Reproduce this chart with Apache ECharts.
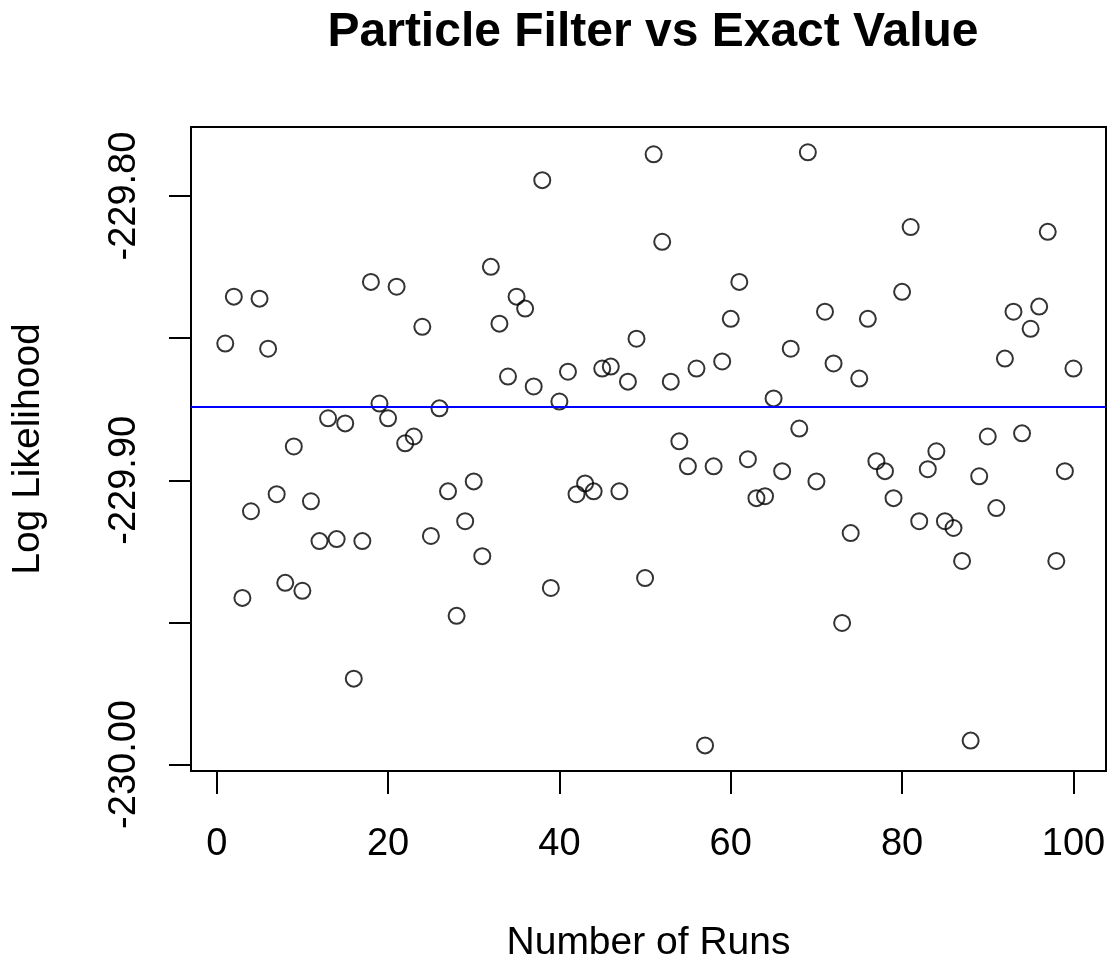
<!DOCTYPE html>
<html>
<head>
<meta charset="utf-8">
<title>Particle Filter vs Exact Value</title>
<script src="https://cdn.jsdelivr.net/npm/echarts@6/dist/echarts.min.js"></script>
<style>
  html, body { margin: 0; padding: 0; background: #fff; }
  #chart { width: 1109px; height: 962px; }
</style>
</head>
<body>
<div id="chart"></div>
<script>
// log likelihood from the particle filter, one value per run (runs 1..100)
const logLik = [
  -229.8519, -229.8354, -229.9414, -229.9109, -229.8361, -229.8537, -229.9049, -229.9361, -229.8881, -229.9389,
  -229.9074, -229.9214, -229.8782, -229.9207, -229.8800, -229.9698, -229.9214, -229.8302, -229.8730, -229.8782,
  -229.8319, -229.8870, -229.8846, -229.8460, -229.9196, -229.8747, -229.9039, -229.9477, -229.9144, -229.9004,
  -229.9267, -229.8249, -229.8449, -229.8635, -229.8354, -229.8396, -229.8670, -229.7944, -229.9379, -229.8723,
  -229.8618, -229.9049, -229.9011, -229.9039, -229.8607, -229.8600, -229.9039, -229.8653, -229.8502, -229.9344,
  -229.7853, -229.8161, -229.8653, -229.8863, -229.8951, -229.8607, -229.9933, -229.8951, -229.8582, -229.8432,
  -229.8302, -229.8926, -229.9063, -229.9056, -229.8712, -229.8968, -229.8537, -229.8818, -229.7846, -229.9004,
  -229.8407, -229.8589, -229.9502, -229.9186, -229.8642, -229.8432, -229.8933, -229.8968, -229.9063, -229.8337,
  -229.8109, -229.9144, -229.8961, -229.8898, -229.9144, -229.9168, -229.9284, -229.9916, -229.8986, -229.8846,
  -229.9098, -229.8572, -229.8407, -229.8835, -229.8467, -229.8389, -229.8126, -229.9284, -229.8968, -229.8607
];
// exact value (blue reference line)
const exactValue = -229.874;

const xTicks = [0, 20, 40, 60, 80, 100];
const yTicks = [-230.0, -229.95, -229.9, -229.85, -229.8];
const yLabels = [-230.0, -229.9, -229.8];

const points = logLik.map((v, i) => [i + 1, v]);

const font = "Liberation Sans, Arial, Helvetica, sans-serif";

const chart = echarts.init(document.getElementById("chart"));

const option = {
  animation: false,
  backgroundColor: "#fff",
  title: {
    text: "Particle Filter vs Exact Value",
    left: 648,
    top: 4,
    textAlign: "center",
    textStyle: {
      fontFamily: font,
      fontSize: 48,
      fontWeight: "bold",
      color: "#000"
    }
  },
  grid: {
    left: 191,
    top: 127,
    width: 915,
    height: 644,
    outerBoundsMode: "none",
    containLabel: false,
    show: true,
    borderColor: "#000",
    borderWidth: 2,
    backgroundColor: "transparent"
  },
  xAxis: {
    type: "value",
    min: -3.0,
    max: 103.8,
    axisLine: { show: false, onZero: false },
    splitLine: { show: false },
    axisTick: {
      show: true,
      inside: false,
      length: 23,
      customValues: xTicks,
      lineStyle: { color: "#000", width: 2 }
    },
    axisLabel: {
      customValues: xTicks,
      margin: 55,
      fontSize: 38,
      fontFamily: font,
      color: "#000"
    },
    name: "Number of Runs",
    nameLocation: "middle",
    nameGap: 153,
    nameTextStyle: { fontSize: 39, fontFamily: font, color: "#000" }
  },
  yAxis: {
    type: "value",
    min: -230.0023,
    max: -229.7757,
    axisLine: { show: false, onZero: false },
    splitLine: { show: false },
    axisTick: {
      show: true,
      inside: false,
      length: 22,
      customValues: yTicks,
      lineStyle: { color: "#000", width: 2 }
    },
    axisLabel: {
      customValues: yLabels,
      rotate: 90,
      margin: 47,
      fontSize: 38,
      fontFamily: font,
      color: "#000",
      formatter: (v) => Number(v).toFixed(2)
    },
    name: "Log Likelihood",
    nameLocation: "middle",
    nameGap: 143,
    nameTextStyle: { fontSize: 39, fontFamily: font, color: "#000" }
  },
  series: [
    {
      type: "scatter",
      data: points,
      symbol: "circle",
      symbolSize: 16,
      itemStyle: {
        color: "rgba(0,0,0,0)",
        borderColor: "#000",
        borderWidth: 2
      },
      emphasis: { disabled: true },
      markLine: {
        silent: true,
        symbol: "none",
        precision: 4,
        label: { show: false },
        lineStyle: { color: "#0000ff", width: 2, type: "solid" },
        data: [{ yAxis: exactValue }]
      }
    }
  ]
};

chart.setOption(option);
</script>
</body>
</html>
